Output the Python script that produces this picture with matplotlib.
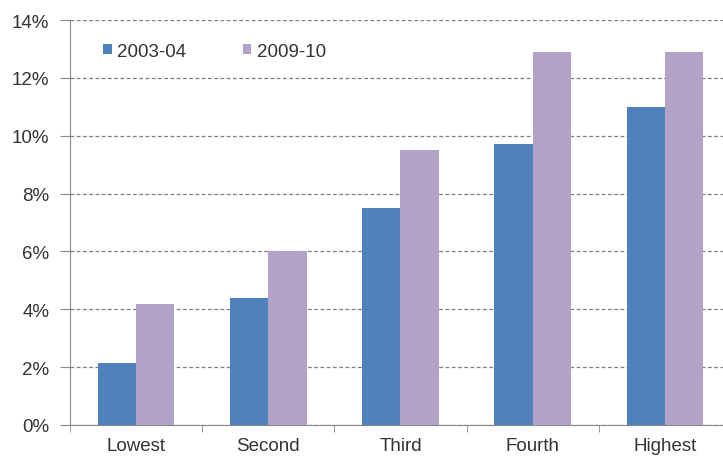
import numpy as np
import matplotlib
matplotlib.use("Agg")
import matplotlib.pyplot as plt
from matplotlib.ticker import FixedLocator, PercentFormatter

categories = ["Lowest", "Second", "Third", "Fourth", "Highest"]
values_0304 = [2.15, 4.4, 7.5, 9.7, 11.0]
values_0910 = [4.2, 6.0, 9.5, 12.9, 12.9]
yticks = [0, 2, 4, 6, 8, 10, 12, 14]

plt.rcParams["font.family"] = ["Liberation Sans", "DejaVu Sans"]

fig = plt.figure(figsize=(7.23, 4.6), dpi=100)
ax = fig.add_axes([0.0968, 0.074, 0.9032, 0.88])

x = np.arange(len(categories))
w = 0.29
ax.bar(x - w / 2, values_0304, width=w, color="#4F81BD", label="2003-04", zorder=3)
ax.bar(x + w / 2, values_0910, width=w, color="#B3A2C7", label="2009-10", zorder=3)

ax.set_xlim(-0.5, 4.44)
ax.set_ylim(0, 14)
ax.set_yticks(yticks)
ax.yaxis.set_major_formatter(PercentFormatter(decimals=0))
ax.yaxis.grid(True, linestyle=(0, (3, 2)), color="#7f7f7f", linewidth=0.9, zorder=0)

# category labels in the middle, tick marks on the boundaries
ax.set_xticks(x)
ax.set_xticklabels(categories)
ax.xaxis.set_minor_locator(FixedLocator(np.arange(-0.5, 5, 1)))
ax.tick_params(axis="x", which="major", length=0, pad=9, labelsize=13.5, labelcolor="#333333")
ax.tick_params(axis="x", which="minor", length=5, color="#888888", direction="out")
ax.tick_params(axis="y", length=7, color="#888888", labelsize=13.5, labelcolor="#333333", pad=8)

for s in ["top", "right"]:
    ax.spines[s].set_visible(False)
ax.spines["left"].set_color("#888888")
ax.spines["bottom"].set_color("#888888")

leg = ax.legend(loc="upper left", bbox_to_anchor=(0.025, 0.985), ncol=2, frameon=False,
                fontsize=13.5, handlelength=0.45, handleheight=0.45, handletextpad=0.3,
                columnspacing=3.0)
for t in leg.get_texts():
    t.set_color("#333333")

fig.savefig("out.png", dpi=100)
